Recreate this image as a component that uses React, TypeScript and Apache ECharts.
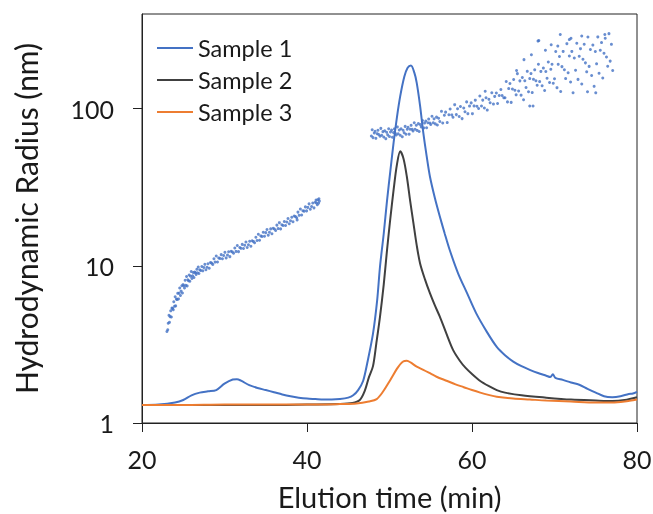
import React, { useEffect, useRef } from "react";
import * as echarts from "echarts";

const seriesNames = ["Sample 1", "Sample 2", "Sample 3"];
const seriesColors = ["#4472C4", "#404040", "#ED7D31"];

const xTicks = [20, 40, 60, 80];
const yTicks = [1, 10, 100];

const sample1: [number, number][] = [
  [20, 1.3], [22, 1.31], [24, 1.35], [25, 1.4], [26, 1.5], [27, 1.56], [28, 1.59], [29, 1.62],
  [30, 1.78], [31, 1.89], [31.5, 1.9], [32, 1.86], [33, 1.74], [34, 1.67], [35, 1.62], [36, 1.57],
  [37, 1.52], [38, 1.48], [39, 1.45], [40, 1.43], [41, 1.42], [42, 1.41], [43, 1.41], [44, 1.42],
  [45, 1.45], [45.6, 1.5], [46.2, 1.62], [46.8, 1.85], [47.3, 2.4], [48, 3.7], [48.5, 6.0],
  [48.85, 9.9], [49.3, 16], [49.7, 26], [50.1, 40], [50.5, 61], [50.9, 88], [51.3, 120], [51.8, 160],
  [52.2, 182], [52.6, 188], [53.0, 170], [53.3, 146], [53.7, 105], [54.1, 70], [54.5, 50], [54.9, 37],
  [55.5, 27], [56.1, 20.6], [56.7, 16], [57.3, 12.6], [58.3, 9], [59.4, 6.7], [60.5, 5.0], [61.8, 3.8],
  [63, 3.05], [64, 2.7], [65, 2.46], [66, 2.3], [67, 2.18], [68, 2.08], [69, 2.0], [69.5, 1.96],
  [69.8, 2.04], [70.1, 1.94], [71, 1.88], [72, 1.81], [73, 1.75], [74, 1.65], [75, 1.56], [76, 1.48],
  [77, 1.46], [78, 1.48], [79, 1.53], [79.5, 1.54], [80, 1.58],
];

const sample2: [number, number][] = [
  [20, 1.3], [25, 1.3], [30, 1.3], [35, 1.3], [40, 1.31], [44, 1.32], [45.5, 1.34], [46.4, 1.4],
  [47, 1.6], [47.5, 1.95], [48, 2.3], [48.4, 3.2], [48.85, 4.75], [49.3, 7.6], [49.7, 12.6],
  [50.1, 20], [50.5, 30.5], [50.9, 44], [51.3, 53.5], [51.7, 48], [52.1, 37], [52.5, 26], [52.9, 18.7],
  [53.3, 13.5], [53.7, 10.4], [54.3, 8.2], [54.9, 6.7], [55.5, 5.6], [56.1, 4.75], [56.9, 3.7],
  [57.7, 2.92], [58.5, 2.5], [59.2, 2.25], [60, 2.05], [61, 1.85], [62, 1.72], [63, 1.62], [64, 1.56],
  [66, 1.5], [69, 1.45], [72, 1.41], [75, 1.39], [77, 1.38], [78.5, 1.4], [80, 1.46],
];

const sample3: [number, number][] = [
  [20, 1.3], [25, 1.3], [30, 1.31], [35, 1.31], [40, 1.31], [44, 1.32], [46, 1.33], [47.5, 1.37],
  [48.45, 1.42], [49.2, 1.58], [50.1, 1.88], [51, 2.25], [51.6, 2.45], [52.1, 2.49], [52.6, 2.42],
  [53.3, 2.28], [54.1, 2.18], [55, 2.06], [55.7, 1.97], [57, 1.85], [58, 1.76], [59, 1.69], [60, 1.62],
  [61, 1.56], [62, 1.51], [63, 1.47], [65, 1.43], [67, 1.41], [69, 1.39], [72, 1.37], [75, 1.35],
  [77, 1.35], [78.5, 1.37], [80, 1.41],
];

const radiusEarly: [number, number][] = [
  [23.02, 3.82], [23.12, 3.92], [23.18, 4.31], [23.27, 4.84], [23.33, 4.37], [23.41, 4.75], [23.48, 5.17],
  [23.56, 4.72], [23.63, 5.38], [23.71, 5.36], [23.79, 5.25], [23.85, 5.91], [23.94, 5.53], [24.02, 6.35],
  [24.08, 5.56], [24.17, 6.14], [24.26, 6.11], [24.33, 6.68], [24.42, 6.16], [24.5, 6.7], [24.57, 7.22],
  [24.66, 6.47], [24.74, 6.9], [24.83, 7.47], [24.9, 6.71], [24.98, 7.59], [25.07, 7.47], [25.15, 7.22],
  [25.23, 8.1], [25.31, 7.51], [25.4, 8.56], [25.47, 7.45], [25.55, 8.15], [25.64, 8.03], [25.72, 8.75],
  [25.8, 7.97], [25.88, 8.58], [25.97, 9.2], [26.05, 8.3], [26.13, 8.63], [26.22, 9.06], [26.3, 8.43],
  [26.39, 9.13], [26.48, 9.02], [26.56, 8.8], [26.65, 9.51], [26.73, 9.02], [26.82, 9.83], [26.9, 8.93],
  [27.0, 9.44], [27.12, 9.34], [27.25, 9.9], [27.37, 9.29], [27.5, 9.76], [27.62, 10.22], [27.75, 9.43],
  [27.88, 9.8], [28.0, 10.3], [28.15, 9.64], [28.3, 10.49], [28.44, 10.4], [28.58, 10.21], [28.72, 11.08],
  [28.86, 10.56], [29.0, 11.55], [29.15, 10.58], [29.3, 11.23], [29.46, 11.13], [29.6, 11.78], [29.75, 11.08],
  [29.9, 11.64], [30.05, 12.18], [30.2, 11.23], [30.36, 11.7], [30.5, 12.28], [30.65, 11.44], [30.8, 12.39],
  [30.95, 12.26], [31.1, 12.01], [31.25, 12.99], [31.4, 12.35], [31.55, 13.47], [31.7, 12.31], [31.85, 13.07],
  [32.0, 12.92], [32.15, 13.69], [32.3, 12.88], [32.45, 13.52], [32.6, 14.18], [32.75, 13.08], [32.9, 13.62],
  [33.05, 14.32], [33.2, 13.32], [33.35, 14.43], [33.5, 14.3], [33.65, 14.02], [33.8, 15.18], [33.95, 14.48],
  [34.1, 15.87], [34.25, 14.55], [34.4, 15.5], [34.55, 15.38], [34.7, 16.35], [34.85, 15.42], [35.0, 16.26],
  [35.15, 17.01], [35.3, 15.67], [35.45, 16.34], [35.6, 17.18], [35.75, 16.01], [35.9, 17.34], [36.05, 17.15],
  [36.2, 16.78], [36.35, 18.15], [36.5, 17.25], [36.65, 18.82], [36.8, 17.18], [36.95, 18.23], [37.1, 18.04],
  [37.25, 19.15], [37.4, 18.04], [37.55, 19.01], [37.7, 20.0], [37.85, 18.51], [38.0, 19.35], [38.15, 20.39],
  [38.3, 19.08], [38.45, 20.75], [38.6, 20.6], [38.75, 20.23], [38.8, 19.6], [38.9, 21.96], [39.05, 20.95],
  [39.2, 22.95], [39.35, 21.04], [39.5, 22.42], [39.65, 22.28], [39.8, 23.71], [39.95, 22.36], [40.1, 23.53],
  [40.25, 24.78], [40.4, 22.9], [40.55, 23.86], [40.7, 25.08], [40.85, 23.37], [41.0, 25.35], [41.1, 26.2],
  [41.15, 25.1], [41.25, 24.44], [41.3, 26.31], [41.4, 24.99], [41.45, 26.7], [41.5, 25.8],
];

const radiusLate: [number, number][] = [
  [47.8, 67.0], [47.9, 73.4], [48.0, 65.4], [48.15, 70.0], [48.25, 71.8], [48.35, 64.7], [48.5, 69.3],
  [48.6, 72.9], [48.7, 68.4], [48.85, 66.7], [48.95, 74.9], [49.05, 67.7], [49.2, 71.4], [49.3, 66.0],
  [49.42, 72.4], [49.55, 64.4], [49.65, 70.7], [49.78, 68.1], [49.9, 74.5], [50.0, 66.4], [50.12, 71.0],
  [50.25, 73.0], [50.35, 65.8], [50.48, 70.5], [50.6, 74.3], [50.7, 69.8], [50.82, 68.0], [50.95, 76.5],
  [51.05, 69.2], [51.18, 73.1], [51.3, 67.7], [51.4, 74.4], [51.55, 66.2], [51.65, 72.9], [51.78, 70.3],
  [51.9, 77.1], [52.0, 68.7], [52.15, 73.9], [52.25, 76.1], [52.38, 68.8], [52.5, 74.0], [52.62, 78.3],
  [52.75, 73.8], [52.85, 72.1], [53.0, 81.4], [53.1, 73.9], [53.25, 78.4], [53.35, 72.7], [53.5, 80.3],
  [53.6, 71.5], [53.75, 79.1], [53.85, 76.5], [54.0, 84.1], [54.15, 75.4], [54.25, 80.9], [54.4, 83.5],
  [54.5, 75.5], [54.65, 81.3], [54.75, 85.8], [54.9, 81.1], [55.0, 79.3], [55.15, 89.5], [55.3, 81.3],
  [55.4, 86.1], [55.55, 80.0], [55.7, 88.3], [55.8, 78.6], [55.95, 86.9],
  [56.1, 82.9], [56.3, 96.1], [56.45, 81.0], [56.65, 90.8], [56.8, 95.0], [57.0, 81.5], [57.2, 91.4],
  [57.35, 99.5], [57.55, 91.2], [57.7, 88.2], [57.9, 106.0], [58.1, 91.6], [58.25, 99.8], [58.45, 89.1],
  [58.6, 103.2], [58.8, 86.4], [59.0, 101.0], [59.15, 95.6], [59.35, 110.4], [59.5, 92.9], [59.7, 103.8],
  [59.9, 108.8], [60.05, 92.9], [60.25, 104.1], [60.4, 113.2], [60.6, 103.6], [60.8, 100.2], [60.95, 120.2],
  [61.15, 103.9], [61.3, 113.3], [61.5, 101.0], [61.7, 117.3], [61.85, 97.9], [62.05, 114.6], [62.2, 108.9],
  [62.4, 126.3], [62.6, 106.9], [62.75, 119.6], [62.95, 125.8], [63.1, 107.7], [63.3, 121.1], [63.5, 132.3],
  [63.65, 121.1], [63.85, 117.4], [61.6, 129], [65.4, 175],
  [64.0, 117.2], [64.15, 148.8], [64.3, 110.4], [64.45, 134.1], [64.6, 144.5], [64.75, 109.6], [64.9, 133.2],
  [65.05, 153.2], [65.2, 130.9], [65.35, 122.4], [65.5, 167.0], [65.65, 129.5], [65.8, 150.2], [65.95, 121.8],
  [66.1, 157.8], [66.25, 113.8], [66.4, 150.3], [66.55, 136.2], [66.7, 172.7], [66.85, 128.0], [67.0, 155.3],
  [67.15, 167.1], [67.3, 126.5], [67.45, 153.6], [67.6, 176.5], [67.75, 150.5], [67.9, 140.7], [68.05, 191.7],
  [68.2, 148.6], [68.35, 172.5], [68.5, 139.8], [68.65, 181.1], [68.8, 130.5], [68.95, 172.4], [69.1, 156.1],
  [69.25, 198.1], [69.4, 146.7], [69.55, 178.0], [69.7, 191.5], [69.85, 145.0],
  [67.4, 104], [68.0, 269], [66.3, 205], [68.9, 235], [69.6, 255], [67.2, 220],
  [70.0, 154.9], [70.15, 230.8], [70.3, 136.0], [70.45, 191.3], [70.6, 214.8], [70.75, 128.5], [70.9, 185.0],
  [71.05, 231.3], [71.2, 176.7], [71.35, 155.3], [71.5, 259.1], [71.65, 169.0], [71.8, 216.2], [71.95, 147.8],
  [72.1, 231.3], [72.25, 126.1], [72.4, 209.9], [72.55, 175.6], [72.7, 260.7], [72.85, 153.5], [73.0, 215.2],
  [73.15, 240.7], [73.3, 143.5], [73.45, 206.0], [73.6, 256.7], [73.75, 195.5], [73.9, 171.4], [74.05, 285.6],
  [74.2, 185.7], [74.35, 238.0], [74.5, 162.6], [74.65, 253.7], [74.8, 138.6], [74.95, 231.1], [75.1, 192.7],
  [75.25, 286.0], [75.4, 168.0], [75.55, 235.3], [75.7, 263.1], [75.85, 156.8], [76.0, 225.0], [76.15, 280.2],
  [76.3, 212.9], [76.45, 186.1], [76.6, 300.0], [76.75, 200.6], [76.9, 256.5], [77.05, 174.8],
  [70.7, 296], [68.1, 271], [73.3, 290], [76.1, 296], [72.0, 280], [75.0, 126], [74.0, 128], [70.4, 250],
  [71.8, 275], [67.0, 104],
];

const FONT = "Lato";
const TEXT = "#1a1a1a";

export default function App() {
  const ref = useRef<HTMLDivElement>(null);
  useEffect(() => {
    if (!ref.current) return;
    const chart = echarts.init(ref.current, undefined, { renderer: "svg" });
    const lines = [sample1, sample2, sample3].map((d, i) => ({
      name: seriesNames[i],
      type: "line",
      data: d,
      symbol: "none",
      smooth: 0.3,
      lineStyle: { color: seriesColors[i], width: 2 },
      itemStyle: { color: seriesColors[i] },
      z: 3,
    }));
    const scatters = [radiusEarly, radiusLate].map((d) => ({
      type: "scatter",
      data: d,
      symbolSize: 3,
      itemStyle: { color: "#4472C4", opacity: 0.8 },
      z: 2,
    }));
    chart.setOption({
      animation: false,
      grid: {
        left: 142,
        right: 16,
        top: 14,
        bottom: 91,
        show: true,
        borderColor: "#222",
        borderWidth: 1,
        outerBoundsMode: "none",
        containLabel: false,
      },
      legend: {
        data: seriesNames,
        orient: "vertical",
        left: 152,
        top: 31,
        icon: "rect",
        itemWidth: 36,
        itemHeight: 2,
        itemGap: 8,
        textStyle: { fontFamily: FONT, fontSize: 23.5, color: TEXT },
      },
      xAxis: {
        type: "value",
        min: 20,
        max: 80,
        interval: 20,
        name: "Elution time (min)",
        nameLocation: "middle",
        nameGap: 59,
        nameTextStyle: { fontFamily: FONT, fontSize: 29, lineHeight: 28, color: TEXT },
        axisLine: { lineStyle: { color: "#222", width: 1 } },
        axisTick: { show: true, length: 9, inside: false, lineStyle: { color: "#222" } },
        axisLabel: {
          margin: 23,
          fontFamily: FONT,
          fontSize: 25,
          color: TEXT,
          customValues: xTicks,
        },
        splitLine: { show: false },
      },
      yAxis: {
        type: "log",
        logBase: 10,
        min: 1,
        max: 400,
        name: "Hydrodynamic Radius (nm)",
        nameLocation: "middle",
        nameGap: 101,
        nameTextStyle: { fontFamily: FONT, fontSize: 30, color: TEXT },
        axisLine: { show: true, lineStyle: { color: "#222", width: 1 } },
        axisTick: { show: true, length: 9, inside: false, lineStyle: { color: "#222" }, customValues: yTicks },
        axisLabel: {
          margin: 28,
          fontFamily: FONT,
          fontSize: 25,
          color: TEXT,
          customValues: yTicks,
        },
        splitLine: { show: false },
      },
      series: [...scatters, ...lines],
    });
    return () => chart.dispose();
  }, []);
  return (
    <div
      ref={ref}
      style={{ position: "fixed", left: 0, top: 0, width: 653, height: 514, overflow: "hidden" }}
    />
  );
}
